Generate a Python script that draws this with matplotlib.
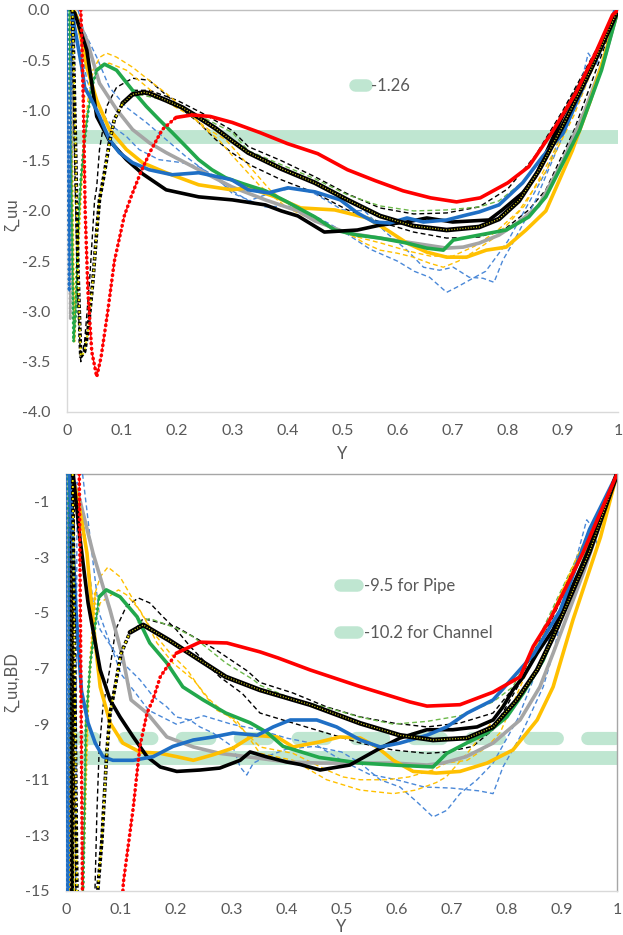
import numpy as np
import matplotlib
matplotlib.use("Agg")
import matplotlib.pyplot as plt
from matplotlib.lines import Line2D

plt.rcParams["font.family"] = ["Lato", "DejaVu Sans"]
plt.rcParams["axes.unicode_minus"] = False

RED = "#ff0000"
BLACK = "#000000"
YELLOW = "#ffc000"
GRAY = "#a5a5a5"
GREEN = "#22a84c"
BLUE = "#1f6fc5"
BLUE_D = "#4a88d8"
GREEN_D = "#6cb84a"
BAND = "#bfe6d1"
TXT = "#595959"

# reference levels
top_level = -1.26
pipe_level = -9.5
chan_level = -10.2

# ---------------- top panel: zeta_uu ----------------
t_red_x = [0.025, 0.027, 0.03, 0.033, 0.038, 0.045, 0.054, 0.062, 0.074, 0.086, 0.104, 0.117, 0.135, 0.153, 0.173,
           0.198, 0.227, 0.26, 0.3, 0.35, 0.4, 0.455, 0.509, 0.56, 0.61, 0.66, 0.707, 0.75, 0.8, 0.838,
           0.88, 0.923, 0.96, 0.99, 1.0]
t_red_y = [0.0, -0.3, -1.0, -2.0, -2.8, -3.4, -3.65, -3.45, -3.0, -2.5, -2.05, -1.85, -1.6, -1.39, -1.19,
           -1.07, -1.045, -1.06, -1.12, -1.22, -1.33, -1.43, -1.59, -1.7, -1.8, -1.87, -1.91, -1.87, -1.72, -1.56,
           -1.22, -0.83, -0.42, -0.05, 0.0]

t_olv_x = [0.01, 0.015, 0.02, 0.025, 0.032, 0.038, 0.047, 0.054, 0.059, 0.068, 0.077, 0.086, 0.101, 0.119, 0.14,
           0.149, 0.18, 0.209, 0.239, 0.27, 0.299, 0.329, 0.389, 0.45, 0.509, 0.568, 0.629, 0.689, 0.748, 0.784,
           0.82, 0.856, 0.9, 0.95, 1.0]
t_olv_y = [0.0, -1.2, -2.6, -3.45, -3.4, -3.2, -2.7, -2.2, -1.89, -1.62, -1.32, -1.09, -0.93, -0.84, -0.82,
           -0.83, -0.9, -0.97, -1.07, -1.18, -1.3, -1.42, -1.58, -1.72, -1.89, -2.05, -2.15, -2.19, -2.16, -2.08,
           -1.9, -1.6, -1.15, -0.6, 0.0]

t_kda_x = [0.008, 0.014, 0.02, 0.025, 0.032, 0.041, 0.05, 0.054, 0.059, 0.072, 0.09, 0.119, 0.149, 0.185, 0.216,
           0.239, 0.27, 0.299, 0.335, 0.389, 0.45, 0.509, 0.568, 0.629, 0.689, 0.748, 0.797, 0.838, 0.869, 0.92,
           0.96, 1.0]
t_kda_y = [0.0, -1.5, -2.9, -3.5, -3.3, -2.7, -1.9, -1.76, -1.39, -0.96, -0.77, -0.68, -0.7, -0.87, -1.02,
           -1.12, -1.29, -1.42, -1.55, -1.69, -1.82, -1.99, -2.11, -2.21, -2.27, -2.26, -2.17, -1.99, -1.79, -1.2,
           -0.6, 0.0]

t_kdb_x = [0.12, 0.15, 0.2, 0.25, 0.3, 0.329, 0.389, 0.45, 0.509, 0.568, 0.629, 0.689, 0.748, 0.8, 0.85, 0.9, 0.95, 1.0]
t_kdb_y = [-0.8, -0.8, -0.9, -1.04, -1.2, -1.36, -1.5, -1.66, -1.83, -1.97, -2.03, -2.02, -1.96, -1.78, -1.45, -1.0, -0.5, 0.0]

t_gdh_x = [0.13, 0.18, 0.24, 0.3, 0.329, 0.389, 0.45, 0.509, 0.568, 0.629, 0.689, 0.748, 0.784, 0.83, 0.87, 0.92, 0.96, 1.0]
t_gdh_y = [-0.84, -0.9, -1.05, -1.22, -1.4, -1.54, -1.68, -1.84, -1.95, -2.0, -1.99, -1.96, -1.9, -1.7, -1.4, -0.95, -0.5, 0.0]

t_grn_x = [0.004, 0.008, 0.012, 0.016, 0.02, 0.025, 0.03, 0.038, 0.045, 0.054, 0.068, 0.09, 0.119, 0.144, 0.167,
           0.191, 0.216, 0.239, 0.263, 0.288, 0.32, 0.36, 0.396, 0.45, 0.486, 0.527, 0.568, 0.617, 0.653, 0.683,
           0.701, 0.748, 0.797, 0.838, 0.869, 0.93, 0.97, 1.0]
t_grn_y = [0.0, -1.8, -3.3, -3.0, -2.2, -1.7, -1.4, -1.03, -0.77, -0.6, -0.54, -0.6, -0.8, -0.96, -1.09,
           -1.22, -1.36, -1.49, -1.59, -1.67, -1.73, -1.8, -1.9, -2.06, -2.19, -2.24, -2.27, -2.32, -2.37, -2.39,
           -2.29, -2.24, -2.19, -2.06, -1.86, -1.2, -0.6, 0.0]

t_yel_x = [0.012, 0.018, 0.036, 0.054, 0.077, 0.108, 0.137, 0.18, 0.239, 0.299, 0.329, 0.378, 0.424, 0.486, 0.545,
           0.581, 0.617, 0.653, 0.689, 0.725, 0.761, 0.797, 0.833, 0.869, 0.917, 0.95, 0.973, 1.0]
t_yel_y = [0.0, -0.07, -0.57, -0.9, -1.19, -1.39, -1.52, -1.62, -1.74, -1.79, -1.77, -1.86, -1.97, -1.99, -2.07,
           -2.19, -2.32, -2.41, -2.46, -2.46, -2.39, -2.36, -2.19, -2.0, -1.4, -0.9, -0.5, 0.0]

t_gry_x = [0.0, 0.004, 0.006, 0.009, 0.014, 0.036, 0.059, 0.09, 0.119, 0.149, 0.18, 0.239, 0.299, 0.36, 0.419,
           0.45, 0.509, 0.568, 0.629, 0.689, 0.719, 0.748, 0.784, 0.82, 0.856, 0.9, 0.94, 0.977, 1.0]
t_gry_y = [0.0, -2.0, -3.08, -1.0, -0.03, -0.3, -0.73, -0.99, -1.19, -1.32, -1.42, -1.59, -1.76, -1.89, -2.0,
           -2.1, -2.22, -2.27, -2.32, -2.37, -2.36, -2.32, -2.24, -2.11, -1.95, -1.5, -1.0, -0.45, 0.0]

t_blu_x = [0.0, 0.002, 0.004, 0.006, 0.009, 0.018, 0.027, 0.032, 0.045, 0.059, 0.077, 0.095, 0.119, 0.149, 0.191,
           0.239, 0.299, 0.329, 0.365, 0.401, 0.45, 0.496, 0.527, 0.557, 0.586, 0.617, 0.647, 0.689, 0.725, 0.748,
           0.784, 0.827, 0.863, 0.9, 0.94, 0.995]
t_blu_y = [0.0, -1.5, -2.8, -1.2, -0.03, -0.3, -0.57, -0.77, -0.9, -1.06, -1.29, -1.42, -1.52, -1.59, -1.64,
           -1.62, -1.69, -1.79, -1.82, -1.77, -1.81, -1.89, -2.02, -2.11, -2.12, -2.07, -2.11, -2.09, -2.04, -2.01,
           -1.94, -1.72, -1.46, -1.23, -0.73, 0.0]

t_bda_x = [0.012, 0.018, 0.036, 0.059, 0.083, 0.108, 0.131, 0.167, 0.209, 0.239, 0.27, 0.299, 0.329, 0.36, 0.4,
           0.45, 0.5, 0.55, 0.6, 0.63, 0.658, 0.689, 0.707, 0.73, 0.76, 0.8, 0.83, 0.87, 0.9, 0.93, 0.96, 1.0]
t_bda_y = [0.0, -0.1, -0.7, -1.0, -1.16, -1.26, -1.39, -1.49, -1.52, -1.56, -1.66, -1.82, -1.89, -1.96, -1.95,
           -2.05, -2.2, -2.38, -2.5, -2.6, -2.66, -2.81, -2.76, -2.69, -2.6, -2.3, -2.0, -1.6, -1.2, -0.8, -0.45, 0.0]

t_bdb_x = [0.02, 0.03, 0.054, 0.077, 0.108, 0.144, 0.18, 0.216, 0.25, 0.3, 0.33, 0.38, 0.42, 0.45, 0.5,
           0.54, 0.58, 0.617, 0.647, 0.676, 0.701, 0.73, 0.755, 0.775, 0.791, 0.809, 0.85, 0.9, 0.93, 0.946, 0.96, 1.0]
t_bdb_y = [0.0, -0.2, -0.47, -0.77, -0.97, -1.12, -1.29, -1.46, -1.6, -1.8, -1.9, -1.8, -1.77, -1.83, -1.99,
           -2.0, -2.22, -2.39, -2.56, -2.59, -2.56, -2.66, -2.67, -2.71, -2.49, -2.32, -1.9, -1.25, -0.8, -0.43, -0.55, 0.0]

t_oda_x = [0.006, 0.01, 0.013, 0.018, 0.025, 0.032, 0.038, 0.047, 0.06, 0.072, 0.09, 0.119, 0.149, 0.18, 0.216,
           0.252, 0.275, 0.3, 0.35, 0.4, 0.45, 0.509, 0.54, 0.568, 0.599, 0.629, 0.658, 0.683, 0.71, 0.74,
           0.78, 0.83, 0.88, 0.93, 0.97, 1.0]
t_oda_y = [0.0, -2.0, -3.3, -2.6, -1.8, -1.23, -0.9, -0.6, -0.47, -0.43, -0.47, -0.57, -0.7, -0.83, -1.0,
           -1.19, -1.29, -1.45, -1.75, -1.97, -2.1, -2.22, -2.32, -2.39, -2.42, -2.46, -2.52, -2.56, -2.5, -2.4,
           -2.25, -1.95, -1.45, -0.85, -0.4, 0.0]

t_odb_x = [0.03, 0.045, 0.06, 0.077, 0.108, 0.137, 0.167, 0.198, 0.227, 0.257, 0.288, 0.33, 0.37, 0.42, 0.47,
           0.52, 0.57, 0.62, 0.66, 0.7, 0.74, 0.78, 0.82, 0.87, 0.92, 0.96, 1.0]
t_odb_y = [-0.9, -0.65, -0.55, -0.53, -0.6, -0.73, -0.87, -0.97, -1.06, -1.19, -1.29, -1.55, -1.8, -2.0, -2.15,
           -2.25, -2.32, -2.4, -2.45, -2.45, -2.35, -2.2, -2.0, -1.6, -1.05, -0.5, 0.0]

t_blk_x = [0.008, 0.014, 0.036, 0.054, 0.077, 0.108, 0.137, 0.18, 0.239, 0.3, 0.36, 0.389, 0.419, 0.467, 0.527,
           0.569, 0.617, 0.653, 0.7, 0.766, 0.79, 0.827, 0.85, 0.9, 0.95, 1.0]
t_blk_y = [0.0, -0.03, -0.4, -1.06, -1.3, -1.49, -1.63, -1.79, -1.86, -1.89, -1.94, -2.0, -2.05, -2.21, -2.19,
           -2.14, -2.11, -2.07, -2.11, -2.09, -1.99, -1.82, -1.66, -1.05, -0.55, 0.0]

# ---------------- bottom panel: zeta_uu,BD ----------------
b_red_x = [0.024, 0.026, 0.028, 0.03, 0.06, 0.104, 0.122, 0.134, 0.147, 0.158, 0.171, 0.2, 0.243, 0.292, 0.352,
           0.385, 0.443, 0.534, 0.624, 0.655, 0.715, 0.775, 0.824, 0.848, 0.878, 0.938, 0.982, 1.0]
b_red_y = [0.0, -5.0, -10.0, -15.5, -30.0, -14.7, -12.0, -9.8, -8.6, -8.1, -7.3, -6.45, -6.05, -6.08, -6.4,
           -6.62, -7.05, -7.65, -8.2, -8.35, -8.3, -7.85, -7.3, -6.2, -5.25, -2.85, -0.83, 0.0]

b_olv_x = [0.012, 0.02, 0.03, 0.058, 0.065, 0.074, 0.08, 0.089, 0.1, 0.116, 0.14, 0.187, 0.243, 0.29, 0.352,
           0.443, 0.534, 0.606, 0.666, 0.728, 0.775, 0.818, 0.855, 0.884, 0.95, 1.0]
b_olv_y = [0.0, -15.5, -30.0, -14.85, -13.2, -10.0, -8.6, -7.65, -6.45, -5.7, -5.43, -5.98, -6.7, -7.3, -7.77,
           -8.3, -8.97, -9.4, -9.57, -9.5, -9.1, -8.13, -7.05, -5.86, -2.8, 0.0]

b_kda_x = [0.01, 0.018, 0.035, 0.053, 0.056, 0.06, 0.067, 0.08, 0.09, 0.109, 0.131, 0.152, 0.176, 0.2, 0.225,
           0.249, 0.279, 0.32, 0.352, 0.412, 0.473, 0.534, 0.594, 0.655, 0.691, 0.738, 0.775, 0.83, 0.88, 0.94, 1.0]
b_kda_y = [0.0, -15.5, -30.0, -14.6, -12.2, -10.0, -8.38, -6.95, -5.6, -4.78, -4.46, -4.64, -5.14, -5.6, -6.2,
           -6.7, -7.3, -7.9, -8.6, -8.96, -9.32, -9.68, -9.93, -10.05, -10.0, -9.8, -9.2, -7.3, -5.3, -2.8, 0.0]

b_kdb_x = [0.125, 0.14, 0.2, 0.27, 0.33, 0.352, 0.412, 0.473, 0.534, 0.594, 0.655, 0.715, 0.775, 0.82, 0.87, 0.93, 1.0]
b_kdb_y = [-5.6, -5.2, -5.5, -6.3, -7.1, -7.5, -7.88, -8.38, -8.74, -8.96, -9.1, -8.96, -8.6, -7.5, -5.6, -3.0, 0.0]

b_gdh_x = [0.13, 0.152, 0.2, 0.231, 0.29, 0.34, 0.352, 0.412, 0.473, 0.534, 0.594, 0.655, 0.715, 0.775, 0.811, 0.86, 0.92, 1.0]
b_gdh_y = [-5.35, -5.2, -5.55, -5.86, -6.8, -7.4, -7.6, -8.1, -8.4, -8.75, -9.0, -8.9, -8.7, -8.2, -7.66, -5.8, -3.3, 0.0]

b_grn_x = [0.004, 0.012, 0.02, 0.031, 0.036, 0.044, 0.056, 0.06, 0.073, 0.098, 0.129, 0.152, 0.183, 0.212, 0.249,
           0.29, 0.334, 0.365, 0.394, 0.46, 0.534, 0.594, 0.666, 0.691, 0.727, 0.764, 0.8, 0.83, 0.866, 0.93, 1.0]
b_grn_y = [0.0, -15.5, -30.0, -15.0, -9.0, -6.8, -5.0, -4.42, -4.17, -4.42, -5.14, -6.08, -6.8, -7.66, -8.13,
           -8.6, -8.95, -9.3, -9.8, -10.2, -10.4, -10.47, -10.54, -10.05, -9.68, -9.32, -8.74, -7.88, -6.7, -3.6, 0.0]

b_yel_x = [0.005, 0.009, 0.014, 0.022, 0.038, 0.047, 0.056, 0.062, 0.08, 0.103, 0.134, 0.171, 0.201, 0.231, 0.267,
           0.303, 0.34, 0.383, 0.412, 0.46, 0.497, 0.534, 0.564, 0.594, 0.63, 0.672, 0.715, 0.764, 0.811, 0.855,
           0.884, 0.92, 0.97, 1.0]
b_yel_y = [0.0, -30.0, -0.3, -0.93, -2.85, -4.9, -6.6, -7.66, -8.96, -9.68, -10.0, -10.05, -10.17, -10.3, -10.1,
           -9.86, -9.4, -9.46, -9.82, -9.64, -9.46, -9.5, -9.82, -10.3, -10.7, -10.76, -10.7, -10.4, -9.93, -8.85,
           -7.66, -5.25, -2.27, 0.0]

b_blk_x = [0.008, 0.011, 0.013, 0.025, 0.04, 0.062, 0.08, 0.098, 0.122, 0.147, 0.171, 0.201, 0.243, 0.279, 0.316,
           0.334, 0.363, 0.4, 0.425, 0.461, 0.515, 0.564, 0.606, 0.655, 0.702, 0.746, 0.775, 0.793, 0.811, 0.83,
           0.855, 0.884, 0.946, 1.0]
b_blk_y = [0.0, -30.0, 0.0, -2.27, -4.64, -7.05, -8.13, -8.74, -9.46, -10.17, -10.54, -10.7, -10.65, -10.58, -10.3,
           -10.0, -10.17, -10.36, -10.45, -10.65, -10.47, -9.93, -9.5, -9.2, -9.2, -9.1, -8.85, -8.38, -7.77, -7.3,
           -6.45, -5.6, -2.85, 0.0]

b_blu_x = [0.0, 0.003, 0.006, 0.01, 0.018, 0.028, 0.04, 0.053, 0.067, 0.085, 0.122, 0.158, 0.194, 0.231, 0.267,
           0.303, 0.347, 0.376, 0.407, 0.455, 0.491, 0.534, 0.57, 0.606, 0.655, 0.691, 0.728, 0.775, 0.818, 0.848,
           0.897, 0.95, 1.0]
b_blu_y = [0.0, -30.0, 0.0, -1.5, -4.9, -7.8, -8.96, -9.68, -10.17, -10.3, -10.3, -10.17, -9.8, -9.57, -9.46,
           -9.32, -9.4, -9.1, -8.85, -8.85, -9.1, -9.57, -9.82, -9.68, -9.4, -9.1, -8.6, -8.13, -7.17, -6.5,
           -4.9, -2.0, 0.0]

b_gry_x = [0.002, 0.005, 0.009, 0.014, 0.025, 0.049, 0.08, 0.103, 0.118, 0.147, 0.183, 0.231, 0.279, 0.34, 0.401,
           0.461, 0.534, 0.594, 0.655, 0.684, 0.726, 0.775, 0.824, 0.86, 0.884, 0.94, 1.0]
b_gry_y = [0.0, -11.1, -3.0, -0.3, -0.93, -2.85, -4.9, -6.6, -8.13, -8.6, -9.46, -9.82, -10.05, -10.2, -10.36,
           -10.4, -10.4, -10.4, -10.47, -10.4, -10.17, -9.68, -8.85, -7.66, -6.45, -3.5, 0.0]

b_bda_x = [0.01, 0.015, 0.02, 0.029, 0.049, 0.062, 0.098, 0.116, 0.134, 0.158, 0.183, 0.2, 0.225, 0.243, 0.267,
           0.303, 0.316, 0.328, 0.34, 0.363, 0.4, 0.45, 0.5, 0.534, 0.57, 0.606, 0.637, 0.666, 0.691, 0.715,
           0.746, 0.775, 0.82, 0.87, 0.93, 1.0]
b_bda_y = [0.0, -30.0, -0.3, -1.3, -4.6, -5.6, -6.7, -7.05, -7.4, -8.0, -8.38, -8.74, -8.85, -9.1, -9.32,
           -9.82, -10.54, -10.83, -10.4, -10.17, -9.9, -9.8, -10.0, -10.4, -11.0, -11.26, -11.8, -12.34, -12.1, -11.5,
           -11.0, -10.4, -8.8, -6.3, -3.2, 0.0]

b_bdb_x = [0.03, 0.06, 0.1, 0.15, 0.2, 0.25, 0.3, 0.35, 0.4, 0.45, 0.5, 0.55, 0.6, 0.65, 0.7,
           0.75, 0.775, 0.793, 0.824, 0.866, 0.884, 0.92, 0.945, 0.955, 0.965, 1.0]
b_bdb_y = [0.0, -5.0, -7.2, -8.5, -9.0, -8.7, -9.0, -9.2, -9.5, -9.7, -10.3, -10.8, -11.0, -11.26, -11.3,
           -11.4, -11.5, -10.54, -9.46, -7.66, -6.45, -3.5, -1.65, -1.9, -2.6, 0.0]

b_oda_x = [0.01, 0.018, 0.03, 0.04, 0.053, 0.062, 0.076, 0.098, 0.122, 0.147, 0.165, 0.194, 0.231, 0.261, 0.303,
           0.352, 0.412, 0.473, 0.503, 0.534, 0.582, 0.622, 0.666, 0.69, 0.728, 0.764, 0.788, 0.85, 0.9, 0.95, 1.0]
b_oda_y = [0.0, -30.0, -15.0, -8.0, -4.28, -3.7, -3.35, -3.7, -4.53, -5.36, -6.08, -6.8, -7.4, -8.13, -8.85,
           -9.82, -10.05, -10.65, -10.9, -11.0, -11.0, -10.9, -10.65, -10.4, -10.3, -9.82, -9.3, -6.5, -4.2, -2.0, 0.0]

b_odb_x = [0.035, 0.05, 0.062, 0.095, 0.11, 0.134, 0.158, 0.189, 0.22, 0.249, 0.274, 0.309, 0.352, 0.412, 0.473,
           0.534, 0.594, 0.635, 0.672, 0.69, 0.73, 0.77, 0.82, 0.87, 0.93, 1.0]
b_odb_y = [-9.0, -5.5, -4.64, -4.17, -4.35, -4.9, -5.7, -6.45, -7.05, -7.88, -8.5, -8.85, -10.05, -10.3, -11.0,
           -11.37, -11.5, -11.37, -11.1, -10.9, -10.0, -9.0, -7.5, -5.5, -3.0, 0.0]

x_ticks = [0, 0.1, 0.2, 0.3, 0.4, 0.5, 0.6, 0.7, 0.8, 0.9, 1.0]
x_labels = ["0", "0.1", "0.2", "0.3", "0.4", "0.5", "0.6", "0.7", "0.8", "0.9", "1"]
top_yticks = [0.0, -0.5, -1.0, -1.5, -2.0, -2.5, -3.0, -3.5, -4.0]
bot_yticks = [-1, -3, -5, -7, -9, -11, -13, -15]


def solid(ax, x, y, color, wall=0, lw=2.6, z=4):
    x = np.asarray(x)
    y = np.asarray(y)
    ax.plot(x[wall:], y[wall:], color=color, lw=lw, zorder=z, solid_capstyle="round", solid_joinstyle="round")
    if wall:
        ax.plot(x[:wall + 1], y[:wall + 1], color=color, lw=0.8, zorder=z)
        ax.plot(x[:wall + 1], y[:wall + 1], color=color, lw=2.2, ls=(0, (0.1, 1.5)),
                dash_capstyle="round", zorder=z)


def dashed(ax, x, y, color, z=3):
    ax.plot(x, y, color=color, lw=1.0, ls=(0, (3.5, 2.2)), zorder=z)


def olive(ax, x, y, wall):
    x = np.asarray(x)
    y = np.asarray(y)
    ax.plot(x[wall:], y[wall:], color=BLACK, lw=3.4, zorder=5, solid_capstyle="round")
    ax.plot(x[wall:], y[wall:], color="#e6dc1e", lw=0.9, ls=(0, (0.8, 1.4)), zorder=5)
    ax.plot(x[:wall + 1], y[:wall + 1], color=BLACK, lw=2.6, ls=(0, (1.0, 0.6)), zorder=5)
    ax.plot(x[:wall + 1], y[:wall + 1], color="#f2e600", lw=1.4, ls=(0, (1.0, 2.1)), zorder=5)


def red(ax, x, y, wall):
    x = np.asarray(x)
    y = np.asarray(y)
    ax.plot(x[wall:], y[wall:], color=RED, lw=2.6, zorder=6, solid_capstyle="round")
    ax.plot(x[:wall + 1], y[:wall + 1], color=RED, lw=0.9, ls=(0, (3, 2)), zorder=6)
    ax.plot(x[:wall + 1], y[:wall + 1], color=RED, lw=2.6, ls=(0, (0.1, 1.3)),
            dash_capstyle="round", zorder=6)


def style_axes(ax, full_box):
    ax.set_xlim(0, 1)
    ax.set_xticks(x_ticks)
    ax.set_xticklabels(x_labels)
    ax.tick_params(length=0, labelsize=11.5, colors=TXT)
    ax.tick_params(axis="y", pad=12)
    ax.tick_params(axis="x", pad=9)
    for s in ax.spines.values():
        s.set_linewidth(1.0)
    ax.spines["left"].set_color("#d9d9d9")
    ax.spines["bottom"].set_color("#d9d9d9")
    ax.spines["top"].set_color("#bfbfbf")
    if full_box:
        ax.spines["right"].set_color("#a6a6a6")
        ax.spines["top"].set_color("#a6a6a6")
    else:
        ax.spines["right"].set_visible(False)


fig = plt.figure(figsize=(6.23, 9.35), dpi=100)
ax1 = fig.add_axes([0.1075, 0.5594, 0.8845, 0.43])
ax2 = fig.add_axes([0.106, 0.0471, 0.8844, 0.446])

# ---- top ----
ax1.axhline(top_level, color=BAND, lw=10, zorder=1)
dashed(ax1, t_kda_x, t_kda_y, BLACK)
dashed(ax1, t_kdb_x, t_kdb_y, BLACK)
dashed(ax1, t_gdh_x, t_gdh_y, GREEN_D)
dashed(ax1, t_bda_x, t_bda_y, BLUE_D)
dashed(ax1, t_bdb_x, t_bdb_y, BLUE_D)
dashed(ax1, t_oda_x[5:], t_oda_y[5:], YELLOW)
solid(ax1, t_oda_x[:6], t_oda_y[:6], YELLOW, wall=5, lw=1.0, z=3)
dashed(ax1, t_odb_x, t_odb_y, YELLOW)
solid(ax1, t_gry_x, t_gry_y, GRAY, wall=4)
solid(ax1, t_yel_x, t_yel_y, YELLOW)
solid(ax1, t_grn_x, t_grn_y, GREEN, wall=9)
solid(ax1, t_blk_x, t_blk_y, BLACK)
olive(ax1, t_olv_x, t_olv_y, 12)
solid(ax1, t_blu_x, t_blu_y, BLUE, wall=4)
red(ax1, t_red_x, t_red_y, 15)

ax1.set_ylim(-4.0, 0.0)
ax1.set_yticks(top_yticks)
ax1.set_yticklabels(["%.1f" % v for v in top_yticks])
style_axes(ax1, False)
ax1.set_ylabel("ζ_uu", fontsize=12, color=TXT)
ax1.yaxis.set_label_coords(-0.085, 0.49)
ax1.set_xlabel("Y", fontsize=12, color=TXT)
ax1.xaxis.set_label_coords(0.5, -0.085)
h1 = [Line2D([], [], color=BAND, lw=9, solid_capstyle="round")]
ax1.legend(h1, [str(top_level)], loc="center left", bbox_to_anchor=(0.495, 0.81), frameon=False,
           handlelength=0.7, handletextpad=0.25, fontsize=12, labelcolor=TXT)

# ---- bottom ----
ax2.axhline(pipe_level, color=BAND, lw=9.5, ls=(0, (2.08, 2.31)), dash_capstyle="round", zorder=1)
ax2.axhline(chan_level, color=BAND, lw=10, zorder=1)
dashed(ax2, b_kda_x, b_kda_y, BLACK)
dashed(ax2, b_kdb_x, b_kdb_y, BLACK)
dashed(ax2, b_gdh_x, b_gdh_y, GREEN_D)
dashed(ax2, b_bda_x, b_bda_y, BLUE_D)
dashed(ax2, b_bdb_x, b_bdb_y, BLUE_D)
dashed(ax2, b_oda_x[4:], b_oda_y[4:], YELLOW)
solid(ax2, b_oda_x[:5], b_oda_y[:5], YELLOW, wall=4, lw=1.0, z=3)
dashed(ax2, b_odb_x, b_odb_y, YELLOW)
solid(ax2, b_gry_x, b_gry_y, GRAY, wall=3)
solid(ax2, b_yel_x, b_yel_y, YELLOW, wall=2)
solid(ax2, b_grn_x, b_grn_y, GREEN, wall=7)
solid(ax2, b_blk_x, b_blk_y, BLACK, wall=2)
olive(ax2, b_olv_x, b_olv_y, 9)
solid(ax2, b_blu_x, b_blu_y, BLUE, wall=2)
red(ax2, b_red_x, b_red_y, 11)

ax2.set_ylim(-15, 0)
ax2.set_yticks(bot_yticks)
ax2.set_yticklabels([str(v) for v in bot_yticks])
style_axes(ax2, True)
ax2.set_ylabel("ζ_uu,BD", fontsize=12, color=TXT)
ax2.yaxis.set_label_coords(-0.083, 0.5)
ax2.set_xlabel("Y", fontsize=12, color=TXT)
ax2.xaxis.set_label_coords(0.5, -0.068)
h2 = [Line2D([], [], color=BAND, lw=9, solid_capstyle="round"),
      Line2D([], [], color=BAND, lw=9, solid_capstyle="round")]
ax2.legend(h2, ["%.1f for Pipe" % pipe_level, "%.1f for Channel" % chan_level], loc="center left",
           bbox_to_anchor=(0.47, 0.675), frameon=False, handlelength=1.0, handletextpad=0.45,
           labelspacing=1.9, fontsize=12, labelcolor=TXT)

fig.savefig("out.png", dpi=100)
